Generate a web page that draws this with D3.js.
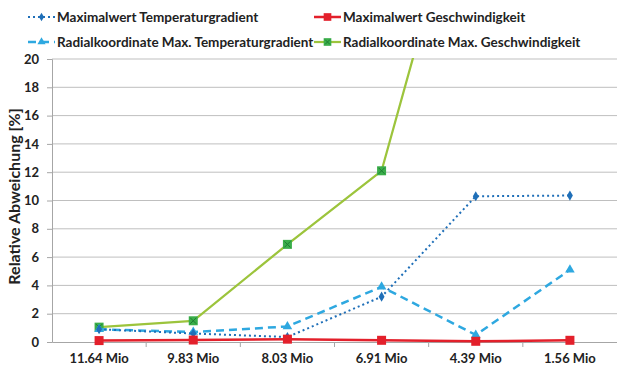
<!DOCTYPE html>
<html>
<head>
<meta charset="utf-8">
<script src="https://cdn.jsdelivr.net/npm/d3@7/dist/d3.min.js"></script>
<style>
  html, body { margin: 0; padding: 0; background: #fff; }
  svg text { font-family: Lato, "Open Sans", sans-serif; font-weight: bold; fill: #222; }
</style>
</head>
<body>
<svg id="chart" width="617" height="367"></svg>
<script>
// Mesh sizes (cells) along the x axis
const categories = ["11.64 Mio", "9.83 Mio", "8.03 Mio", "6.91 Mio", "4.39 Mio", "1.56 Mio"];

// Relative deviation [%] for each series
const maxTempGradient    = [0.9, 0.6, 0.35, 3.2, 10.3, 10.35];
const maxVelocity        = [0.1, 0.14, 0.2, 0.12, 0.05, 0.12];
const radialTempGradient = [0.9, 0.7, 1.1, 3.9, 0.5, 5.1];
const radialVelocity     = [1.05, 1.5, 6.9, 12.1, 36, 40];

const yTicks = [0, 2, 4, 6, 8, 10, 12, 14, 16, 18, 20];

const seriesNames = [
  "Maximalwert Temperaturgradient",
  "Maximalwert Geschwindigkeit",
  "Radialkoordinate Max. Temperaturgradient",
  "Radialkoordinate Max. Geschwindigkeit"
];

const series = [
  { name: seriesNames[0], values: maxTempGradient, color: "#1f6fb8", width: 2, dash: "2,3", marker: "diamond" },
  { name: seriesNames[1], values: maxVelocity, color: "#e3202b", width: 2.5, dash: null, marker: "square" },
  { name: seriesNames[2], values: radialTempGradient, color: "#2ea8e0", width: 2.5, dash: "8,5", marker: "triangle" },
  { name: seriesNames[3], values: radialVelocity, color: "#9cc43c", width: 2.25, dash: null, marker: "xsquare" }
];

const svg = d3.select("#chart");
const margin = { left: 52, right: 0, top: 59, bottom: 25 };
const W = 617, H = 367;
const plotBottom = 342;

const x = d3.scaleBand().domain(categories).range([margin.left, W]).paddingInner(0).paddingOuter(0);
const y = d3.scaleLinear().domain([0, 20]).range([plotBottom, margin.top]);
const cx = c => x(c) + x.bandwidth() / 2;

// gridlines
svg.append("g")
  .selectAll("line")
  .data(yTicks.filter(t => t > 0))
  .join("line")
  .attr("x1", margin.left).attr("x2", W)
  .attr("y1", d => y(d)).attr("y2", d => y(d))
  .attr("stroke", "#bfbfbf").attr("stroke-width", 1);

// y axis
const yAxis = svg.append("g")
  .attr("transform", `translate(${margin.left},0)`)
  .call(d3.axisLeft(y).tickValues(yTicks).tickSize(5).tickPadding(8));
yAxis.select(".domain").attr("stroke", "#a6a6a6");
yAxis.selectAll(".tick line").attr("stroke", "#a6a6a6");
yAxis.selectAll(".tick text").attr("font-size", 13).attr("fill", "#222");

// x axis with tick marks at the category boundaries
const xAxis = svg.append("g")
  .attr("transform", `translate(0,${plotBottom})`)
  .call(d3.axisBottom(x).tickSize(0).tickPadding(12));
xAxis.select(".domain").attr("stroke", "#a6a6a6");
xAxis.selectAll(".tick text").attr("font-size", 13).attr("fill", "#222");
svg.append("g")
  .selectAll("line")
  .data(categories.slice(1))
  .join("line")
  .attr("x1", d => x(d)).attr("x2", d => x(d))
  .attr("y1", plotBottom).attr("y2", plotBottom + 5)
  .attr("stroke", "#a6a6a6");

// y axis title
svg.append("text")
  .attr("transform", `translate(20,${(margin.top + plotBottom) / 2 - 4}) rotate(-90)`)
  .attr("text-anchor", "middle")
  .attr("font-size", 16)
  .text("Relative Abweichung [%]");

// clip region for the plot
svg.append("clipPath").attr("id", "plotclip")
  .append("rect").attr("x", margin.left).attr("y", margin.top - 1)
  .attr("width", W - margin.left).attr("height", plotBottom - margin.top + 8);

const line = d3.line().x((d, i) => cx(categories[i])).y(d => y(d));

function drawMarker(g, type, color, px, py, scale) {
  const s = scale || 1;
  if (type === "diamond") {
    g.append("path")
      .attr("d", d3.symbol(d3.symbolDiamond, 30 * s * s)())
      .attr("transform", `translate(${px},${py})`)
      .attr("fill", color);
  } else if (type === "square") {
    const r = 4.5 * s;
    g.append("rect").attr("x", px - r).attr("y", py - r)
      .attr("width", 2 * r).attr("height", 2 * r).attr("fill", color);
  } else if (type === "triangle") {
    g.append("path")
      .attr("d", d3.symbol(d3.symbolTriangle, 40 * s * s)())
      .attr("transform", `translate(${px},${py})`)
      .attr("fill", color);
  } else if (type === "xsquare") {
    const r = 4.5 * s;
    g.append("rect").attr("x", px - r).attr("y", py - r)
      .attr("width", 2 * r).attr("height", 2 * r).attr("fill", "#3aae4a");
    g.append("path")
      .attr("d", `M${px - r + 1.5},${py - r + 1.5}L${px + r - 1.5},${py + r - 1.5}M${px + r - 1.5},${py - r + 1.5}L${px - r + 1.5},${py + r - 1.5}`)
      .attr("stroke", "#1e7d32").attr("stroke-width", 1);
  }
}

// draw series back to front
const order = [3, 2, 0, 1];
const plot = svg.append("g").attr("clip-path", "url(#plotclip)");
order.forEach(k => {
  const s = series[k];
  const g = plot.append("g");
  g.append("path")
    .attr("d", line(s.values))
    .attr("fill", "none")
    .attr("stroke", s.color)
    .attr("stroke-width", s.width)
    .attr("stroke-dasharray", s.dash)
    .attr("stroke-linejoin", "round");
  s.values.forEach((v, i) => drawMarker(g, s.marker, s.color, cx(categories[i]), y(v)));
});

// legend, two columns
const legendPos = [
  { sx: 28, tx: 57, ty: 17 },
  { sx: 314, tx: 343, ty: 17 },
  { sx: 28, tx: 57, ty: 42 },
  { sx: 314, tx: 343, ty: 42 }
];
series.forEach((s, k) => {
  const p = legendPos[k];
  const g = svg.append("g");
  g.append("line")
    .attr("x1", p.sx).attr("x2", p.tx - 2)
    .attr("y1", p.ty).attr("y2", p.ty)
    .attr("stroke", s.color).attr("stroke-width", s.width)
    .attr("stroke-dasharray", s.dash);
  drawMarker(g, s.marker, s.color, (p.sx + p.tx - 2) / 2, p.ty, 0.85);
  g.append("text")
    .attr("x", p.tx).attr("y", p.ty + 5)
    .attr("font-size", 13.5)
    .text(s.name);
});
</script>
</body>
</html>
